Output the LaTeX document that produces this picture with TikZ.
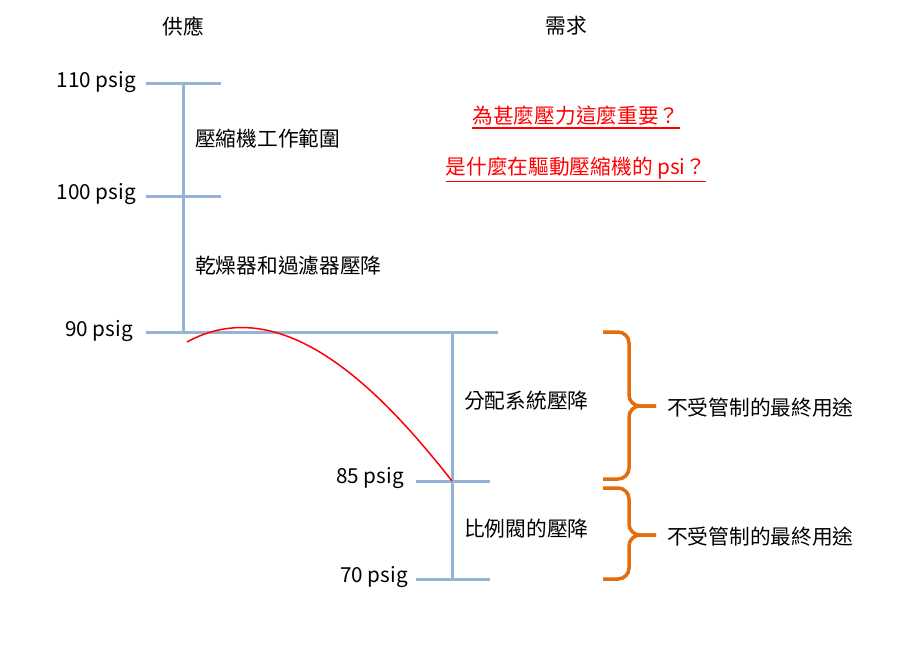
\documentclass[tikz,border=0pt]{standalone}
\usepackage{fontspec}
\setmainfont{Noto Sans CJK TC}
\definecolor{scaleblue}{RGB}{149,179,215}
\definecolor{braceorange}{RGB}{228,108,10}
\tikzset{
	scale line/.style={draw=scaleblue, line width=3pt},
	txt/.style={font=\fontsize{20.7}{25}\selectfont, inner sep=0pt},
	question/.style={txt, text=red},
	curly/.style={draw=braceorange, line width=3.5pt, rounded corners=11pt}
}

\begin{document}
\begin{tikzpicture}[x=1pt,y=-1pt]
	\useasboundingbox (0,0) rectangle (909,648);
	\coordinate (s110) at (183,83);
	\coordinate (s90) at (183,332);
	\coordinate (d90) at (452,332);
	\coordinate (d85) at (452,481);
	\coordinate (d70) at (452,579);
	% supply side
	\draw[scale line] (s110) -- (s90);
	\draw[scale line] (146,83) -- (221,83);
	\draw[scale line] (146,196) -- (221,196);
	\draw[scale line] (146,332) -- (498,332);
	% demand side
	\draw[scale line] (d90) -- (d70);
	\draw[scale line] (416,481) -- (490,481);
	\draw[scale line] (416,579) -- (490,579);
	\draw (183,26) node[txt] (supply) {供應};
	\draw (566,26) node[txt] (demand) {需求};
	\draw (136,82) node[txt, anchor=east] (p110) {110 psig};
	\draw (136,194) node[txt, anchor=east] (p100) {100 psig};
	\draw (133,331) node[txt, anchor=east] (p90) {90 psig};
	\draw (404,478) node[txt, anchor=east] (p85) {85 psig};
	\draw (408,577) node[txt, anchor=east] (p70) {70 psig};
	\draw (195,139) node[txt, anchor=west] (range) {壓縮機工作範圍};
	\draw (195,266) node[txt, anchor=west] (dryer) {乾燥器和過濾器壓降};
	\draw (464,401) node[txt, anchor=west] (distrib) {分配系統壓降};
	\draw (464,529) node[txt, anchor=west] (valve) {比例閥的壓降};
	% red questions
	\draw (576,116) node[question] (q1) {為甚麼壓力這麼重要？};
	\draw (576,168) node[question] (q2) {是什麼在驅動壓縮機的~psi？};
	\draw[red, line width=1.2pt] ([yshift=-2pt]q1.south west) -- ([yshift=-2pt]q1.south east);
	\draw[red, line width=1.2pt] ([yshift=-2pt]q2.south west) -- ([yshift=-2pt]q2.south east);
	\draw[red, line width=1.5pt] (187,342) .. controls (287,287) and (389,401) .. (d85);
	% braces
	\draw[curly] (603,332) -- (629,332) -- (629,406) -- (656,406);
	\draw[curly] (603,479) -- (629,479) -- (629,406) -- (656,406);
	\draw[curly] (603,488) -- (629,488) -- (629,535) -- (656,535);
	\draw[curly] (603,579) -- (629,579) -- (629,535) -- (656,535);
	\draw (667,408) node[txt, anchor=west] (use1) {不受管制的最終用途};
	\draw (667,537) node[txt, anchor=west] (use2) {不受管制的最終用途};
\end{tikzpicture}
\end{document}
